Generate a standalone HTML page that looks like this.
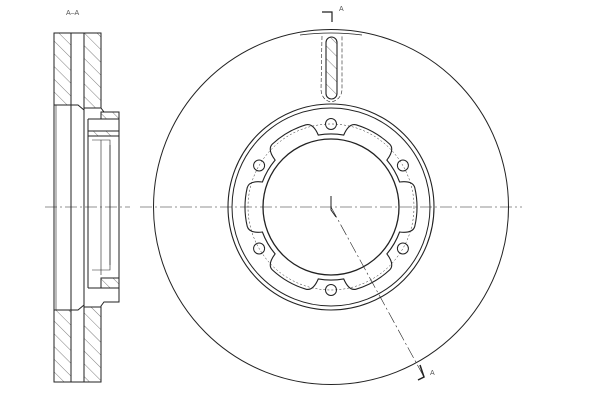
<!DOCTYPE html>
<html><head><meta charset="utf-8"><style>
html,body{margin:0;padding:0;background:#fff}
svg{display:block}
text{font-family:"Liberation Sans",sans-serif;font-size:7px;fill:#555}
</style></head><body>
<svg id="s" width="600" height="413" viewBox="0 0 600 413" xmlns="http://www.w3.org/2000/svg">
<defs>
<pattern id="h" patternUnits="userSpaceOnUse" width="9" height="9" patternTransform="rotate(-45)">
<line x1="0" y1="0" x2="0" y2="9" stroke="#444" stroke-width="0.7"/>
</pattern>
</defs>
<g fill="none" stroke="#222" stroke-width="1">
<text x="66" y="15" stroke="none">A–A</text>
<rect x="54" y="33" width="17" height="72" fill="url(#h)"/>
<rect x="54" y="310" width="17" height="72" fill="url(#h)"/>
<rect x="84" y="33" width="17" height="75" fill="url(#h)"/>
<rect x="84" y="307" width="17" height="75" fill="url(#h)"/>
<rect x="101" y="112" width="18" height="7" fill="url(#h)"/>
<rect x="88" y="131" width="31" height="5" fill="url(#h)"/>
<rect x="101" y="278" width="18" height="10" fill="url(#h)"/>
<path d="M54 33 H71 V382 H54 Z"/>
<line x1="56" y1="105" x2="56" y2="310" stroke-width="0.6"/>
<path d="M71 105 H54 M71 310 H54"/>
<path d="M71 33 H84 M71 382 H84"/>
<path d="M71 105 H78 L84 110 M71 310 H78 L84 305"/>
<path d="M84 33 H101 V108 L104 112 H119 V302 H104 L101 306 V382 H84 Z"/>
<path d="M84 33 V382"/>
<path d="M88 119 H119 M88 131 H119 M88 136 H119 M88 119 V288 M88 288 H119"/>
<path d="M92 140 H110 V270 H92" stroke-width="0.6"/>
<path d="M110 145 V265 M101 140 V275" stroke-width="0.6"/>
<circle cx="331" cy="207" r="177.5"/>
<path d="M300 35 Q331 31 362 35" stroke-width="0.8"/>
<circle cx="331" cy="207" r="103" stroke-width="1.1"/>
<circle cx="331" cy="207" r="99"/>
<circle cx="331" cy="207" r="68" stroke-width="1.3"/>
<path id="lobe" stroke-width="1.1"/>
<circle cx="331" cy="207" r="83" stroke-dasharray="2 2" stroke-width="0.5"/>
<circle cx="402.9" cy="165.5" r="5.5"/>
<circle cx="331" cy="124" r="5.5"/>
<circle cx="259.1" cy="165.5" r="5.5"/>
<circle cx="259.1" cy="248.5" r="5.5"/>
<circle cx="331" cy="290" r="5.5"/>
<circle cx="402.9" cy="248.5" r="5.5"/>
<rect x="326" y="37" width="11" height="62" rx="5.5" fill="url(#h)" stroke-width="1.1"/>
<path d="M322 36 L321 90 Q322 100 331 102 Q341 100 342 90 L342 36" stroke-dasharray="4 2" stroke-width="0.6"/>
<path d="M45 207 H130 M140 207 H522" stroke-dasharray="12 3 2 3" stroke-width="0.6"/>
<path d="M331 207 L424 377" stroke-dasharray="12 3 2 3" stroke-width="0.6"/>
<path d="M331 196 V210 L336 217" stroke-width="1"/>
<path d="M322 12 H332 V22" stroke-width="1.2"/>
<text x="339" y="11" stroke="none">A</text>
<path d="M420 365 L424 377 L418 380" stroke-width="1.5"/>
<text x="430" y="375" stroke="none">A</text>
</g>
<script>
var cx=331,cy=207,d="";
function P(r,a){a=a*Math.PI/180;return (cx+r*Math.cos(a)).toFixed(1)+" "+(cy-r*Math.sin(a)).toFixed(1);}
for(var i=0;i<6;i++){var t=i*60;
d+=(i==0?"M":"L")+P(86,t-13)+" A86 86 0 0 0 "+P(86,t+13)+" Q"+P(86,t+18)+" "+P(73,t+20)+" A73 73 0 0 0 "+P(73,t+40)+" Q"+P(86,t+42)+" "+P(86,t+47)+" ";}
d+="Z";
document.getElementById("lobe").setAttribute("d",d);
</script>
</svg>
</body></html>
